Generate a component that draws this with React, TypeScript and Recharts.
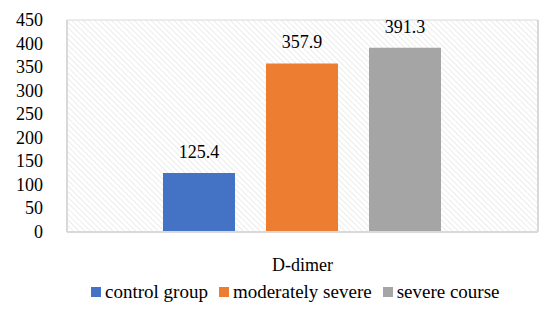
import React from "react";
import { BarChart, Bar, XAxis, YAxis, CartesianGrid, Legend, LabelList } from "recharts";

const CATEGORIES = ["D-dimer"];
const CONTROL_GROUP = [125.4];
const MODERATELY_SEVERE = [357.9];
const SEVERE_COURSE = [391.3];
const Y_TICKS = [0, 50, 100, 150, 200, 250, 300, 350, 400, 450];

const FONT = "Liberation Serif";
const FS = 18;
const GRID = "#d9d9d9";
const COL = { control: "#4472c4", moderate: "#ed7d31", severe: "#a5a5a5" };

const rows = CATEGORIES.map((c, i) => ({
  cat: c,
  control: CONTROL_GROUP[i],
  moderate: MODERATELY_SEVERE[i],
  severe: SEVERE_COURSE[i],
}));

const SERIES = [
  { key: "control", name: "control group", color: COL.control },
  { key: "moderate", name: "moderately severe", color: COL.moderate },
  { key: "severe", name: "severe course", color: COL.severe },
];

// ticks drawn by hand so the serif face actually sticks
function YTick(props: any) {
  const { x, y, payload } = props;
  return (
    <text x={x - 22} y={y} dy={6} textAnchor="end" fontFamily={FONT} fontSize={FS} fill="#000">
      {payload.value}
    </text>
  );
}

function XTick(props: any) {
  const { x, y, payload } = props;
  return (
    <text x={x} y={y + 37} textAnchor="middle" fontFamily={FONT} fontSize={FS} fill="#000">
      {payload.value}
    </text>
  );
}

function TopLabel(props: any) {
  const { x, y, width, value } = props;
  return (
    <text x={x + width / 2} y={y - 15} textAnchor="middle" fontFamily={FONT} fontSize={FS} fill="#000">
      {value}
    </text>
  );
}

function LegendBox() {
  return (
    <div style={{ display: "flex", justifyContent: "flex-start", alignItems: "center", paddingLeft: 91, fontFamily: FONT, fontSize: 19, color: "#000", lineHeight: "20px" }}>
      {SERIES.map((s) => (
        <div key={s.key} style={{ display: "flex", alignItems: "center", marginRight: 11 }}>
          <span style={{ display: "inline-block", width: 10, height: 10, background: s.color, marginRight: 4 }} />
          <span>{s.name}</span>
        </div>
      ))}
    </div>
  );
}

export default function App() {
  return (
    <div style={{ position: "absolute", left: 0, top: 0, background: "#fff" }}>
      <BarChart
        width={557}
        height={313}
        data={rows}
        margin={{ top: 20, right: 0, left: 0, bottom: 0 }}
        barCategoryGap={96}
        barGap={31}
      >
        <defs>
          <pattern id="hatch" width="4" height="4" patternUnits="userSpaceOnUse" patternTransform="rotate(-45)">
            <line x1="0" y1="0" x2="0" y2="4" stroke={GRID} strokeWidth={1} />
          </pattern>
        </defs>
        <CartesianGrid fill="url(#hatch)" stroke={GRID} vertical={false} />
        <XAxis
          dataKey="cat"
          height={50}
          tickLine={false}
          tickSize={0}
          axisLine={{ stroke: GRID, strokeWidth: 2 }}
          tick={<XTick />}
        />
        <YAxis
          yAxisId="left"
          width={67}
          domain={[0, 450]}
          ticks={Y_TICKS}
          interval={0}
          tickLine={false}
          tickSize={0}
          axisLine={{ stroke: GRID, strokeWidth: 2 }}
          tick={<YTick />}
        />
        <YAxis
          yAxisId="right"
          orientation="right"
          width={19}
          domain={[0, 450]}
          tick={false}
          tickLine={false}
          axisLine={{ stroke: GRID, strokeWidth: 2 }}
        />
        <Legend height={31} content={<LegendBox />} />
        {SERIES.map((s) => (
          <Bar key={s.key} yAxisId="left" dataKey={s.key} name={s.name} fill={s.color} isAnimationActive={false}>
            <LabelList dataKey={s.key} content={<TopLabel />} />
          </Bar>
        ))}
      </BarChart>
    </div>
  );
}
